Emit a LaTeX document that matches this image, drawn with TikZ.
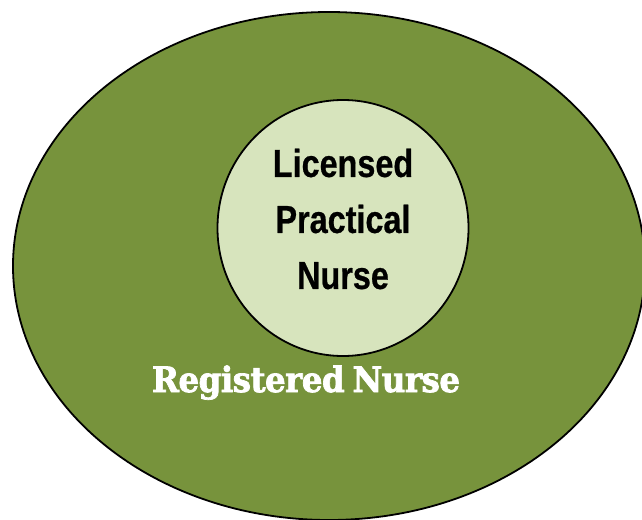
\documentclass[tikz,border=0pt]{standalone}
\usepackage{fontspec}
\usetikzlibrary{shapes.geometric}
\setmainfont{Liberation Sans}
\newfontfamily\lpnfont[FakeStretch=0.83, FakeBold=0.6]{Liberation Sans}
\newfontfamily\rnfont[FakeBold=2, FakeStretch=0.93, LetterSpace=-1.5]{DejaVu Serif}
\definecolor{olivedark}{HTML}{77933C}
\definecolor{olivelight}{HTML}{D7E4BD}
\tikzset{
  outerset/.style={draw=black, line width=1.8pt, fill=olivedark},
  innerset/.style={draw=black, line width=1.8pt, fill=olivelight},
  lpnlabel/.style={font=\lpnfont\bfseries\fontsize{39}{56}\selectfont, align=center, text=black},
  rnlabel/.style={font=\rnfont\bfseries\fontsize{35}{40}\selectfont, text=white}
}
\begin{document}
\begin{tikzpicture}[x=1pt,y=1pt]
  \useasboundingbox (0,0) rectangle (642,-519);
  \clip (0,0) rectangle (642,-519);
  % outer set: registered nurse scope
  \node[outerset, ellipse, minimum width=632, minimum height=508, inner sep=0pt] (rn) at (329,-266) {};
  % inner set: licensed practical nurse scope
  \node[innerset, ellipse, minimum width=251, minimum height=256, inner sep=0pt] (lpn) at (343,-228) {};
  \node[lpnlabel] (lpntext) at (343,-219) {Licensed\\Practical\\Nurse};
  \node[rnlabel, anchor=base] (rntext) at (306,-392) {Registered\hspace{-3pt} Nurse};
\end{tikzpicture}
\end{document}
